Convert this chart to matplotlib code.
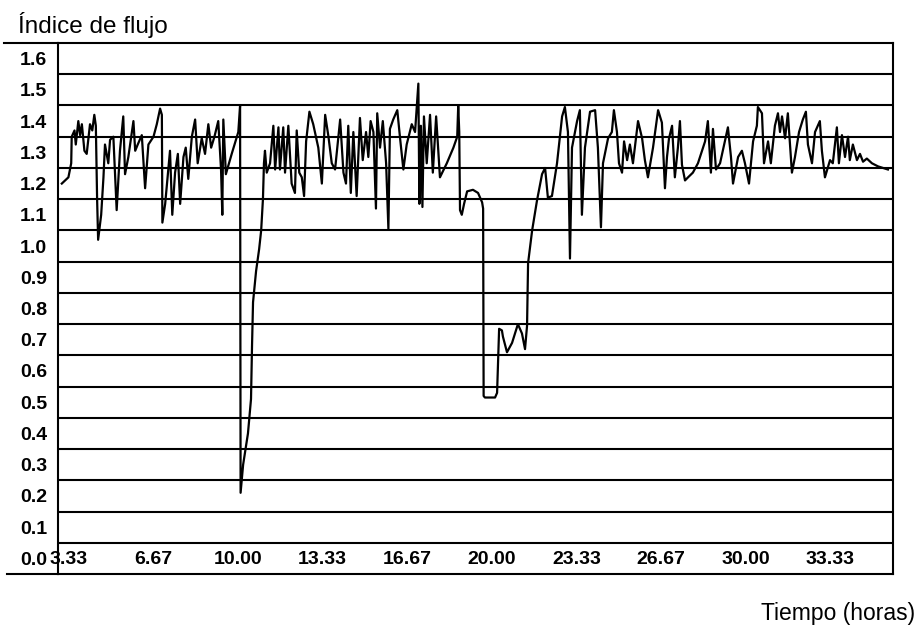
import matplotlib
matplotlib.use('Agg')
import matplotlib.pyplot as plt

plt.rcParams['font.family'] = ['Liberation Sans', 'DejaVu Sans']

# time in hours
tiempo = [3.07, 3.33, 3.44, 3.46, 3.57, 3.62, 3.72, 3.79, 3.86, 3.96, 4.05, 4.18, 4.27, 4.35, 4.41,
          4.46, 4.50, 4.62, 4.71, 4.77, 4.90, 4.97, 5.10, 5.23, 5.36, 5.49, 5.56, 5.69, 5.89, 5.96,
          6.06, 6.22, 6.35, 6.48, 6.68, 6.81, 6.94, 7.01, 7.03, 7.14, 7.33, 7.42, 7.53, 7.64, 7.73,
          7.86, 7.95, 8.05, 8.19, 8.32, 8.42, 8.58, 8.71, 8.84, 8.95, 9.08, 9.23, 9.34, 9.39, 9.43,
          9.53, 9.76, 10.02, 10.09, 10.11, 10.21, 10.40, 10.52, 10.56, 10.60, 10.72, 10.84, 10.92,
          10.99, 11.03, 11.07, 11.14, 11.27, 11.40, 11.47, 11.60, 11.66, 11.79, 11.86, 11.99, 12.12,
          12.25, 12.32, 12.42, 12.52, 12.61, 12.69, 12.82, 12.97, 13.17, 13.31, 13.44, 13.57, 13.70,
          13.83, 14.03, 14.16, 14.26, 14.35, 14.45, 14.55, 14.68, 14.81, 14.92, 15.05, 15.14, 15.23,
          15.34, 15.44, 15.49, 15.60, 15.71, 15.84, 15.93, 15.99, 16.12, 16.28, 16.39, 16.52, 16.65,
          16.85, 16.98, 17.11, 17.15, 17.21, 17.27, 17.33, 17.44, 17.57, 17.68, 17.81, 17.96, 18.23,
          18.49, 18.64, 18.68, 18.72, 18.75, 18.82, 18.91, 19.03, 19.26, 19.46, 19.62, 19.66, 19.68,
          19.73, 20.13, 20.21, 20.29, 20.40, 20.44, 20.60, 20.80, 21.03, 21.19, 21.31, 21.39, 21.43,
          21.59, 21.78, 21.98, 22.10, 22.21, 22.37, 22.57, 22.77, 22.88, 23.00, 23.08, 23.16, 23.36,
          23.47, 23.55, 23.67, 23.87, 24.07, 24.18, 24.30, 24.38, 24.58, 24.73, 24.81, 24.93, 25.01,
          25.13, 25.21, 25.33, 25.44, 25.56, 25.76, 25.92, 26.03, 26.15, 26.35, 26.55, 26.70, 26.82,
          26.90, 26.98, 27.10, 27.21, 27.33, 27.41, 27.49, 27.61, 27.73, 27.92, 28.12, 28.40, 28.51,
          28.63, 28.71, 28.83, 28.99, 29.18, 29.30, 29.42, 29.50, 29.70, 29.85, 29.97, 30.13, 30.29,
          30.44, 30.48, 30.64, 30.72, 30.88, 30.99, 31.15, 31.27, 31.35, 31.43, 31.55, 31.66, 31.82,
          31.94, 32.10, 32.25, 32.37, 32.45, 32.61, 32.73, 32.92, 33.00, 33.12, 33.32, 33.43, 33.59,
          33.67, 33.79, 33.91, 34.03, 34.10, 34.22, 34.38, 34.50, 34.62, 34.77, 34.97, 35.21, 35.60]

indice = [1.20, 1.22, 1.265, 1.35, 1.37, 1.325, 1.40, 1.355, 1.39, 1.305, 1.295, 1.39, 1.37, 1.42, 1.385,
          1.15, 1.02, 1.10, 1.22, 1.325, 1.265, 1.34, 1.35, 1.115, 1.305, 1.415, 1.23, 1.285, 1.40, 1.305,
          1.325, 1.355, 1.185, 1.325, 1.35, 1.39, 1.44, 1.42, 1.075, 1.135, 1.305, 1.10, 1.235, 1.295, 1.135,
          1.285, 1.315, 1.215, 1.35, 1.405, 1.265, 1.345, 1.295, 1.39, 1.315, 1.35, 1.40, 1.245, 1.10, 1.405,
          1.23, 1.295, 1.365, 1.45, 0.21, 0.30, 0.40, 0.51, 0.68, 0.82, 0.92, 0.99, 1.05,
          1.15, 1.265, 1.305, 1.235, 1.265, 1.385, 1.245, 1.38, 1.245, 1.38, 1.235, 1.385, 1.20,
          1.17, 1.37, 1.235, 1.22, 1.16, 1.335, 1.43, 1.39, 1.315, 1.20, 1.42, 1.35, 1.265,
          1.245, 1.405, 1.235, 1.20, 1.385, 1.17, 1.365, 1.16, 1.41, 1.275, 1.365, 1.285, 1.40,
          1.365, 1.12, 1.425, 1.315, 1.40, 1.265, 1.055, 1.375, 1.405, 1.435, 1.345, 1.245, 1.325,
          1.39, 1.365, 1.52, 1.135, 1.385, 1.125, 1.415, 1.265, 1.42, 1.235, 1.415, 1.22, 1.265,
          1.315, 1.35, 1.45, 1.365, 1.115, 1.10, 1.135, 1.175, 1.18, 1.17, 1.14, 1.12, 0.52,
          0.515, 0.515, 0.53, 0.735, 0.73, 0.71, 0.66, 0.69, 0.75, 0.72, 0.67, 0.745, 0.945,
          1.05, 1.145, 1.23, 1.25, 1.155, 1.16, 1.265, 1.415, 1.445, 1.365, 0.96, 1.315, 1.40,
          1.435, 1.10, 1.315, 1.43, 1.435, 1.315, 1.06, 1.265, 1.345, 1.365, 1.435, 1.365, 1.265,
          1.235, 1.335, 1.275, 1.325, 1.265, 1.40, 1.345, 1.275, 1.22, 1.315, 1.435, 1.395, 1.185,
          1.285, 1.345, 1.385, 1.22, 1.315, 1.40, 1.26, 1.21, 1.22, 1.235, 1.265, 1.335, 1.40,
          1.235, 1.375, 1.245, 1.265, 1.335, 1.38, 1.285, 1.20, 1.285, 1.305, 1.265, 1.20, 1.335,
          1.385, 1.445, 1.425, 1.265, 1.335, 1.265, 1.385, 1.425, 1.365, 1.415, 1.345, 1.425, 1.235,
          1.285, 1.365, 1.405, 1.43, 1.325, 1.265, 1.365, 1.40, 1.305, 1.22, 1.275, 1.265, 1.38,
          1.265, 1.355, 1.285, 1.35, 1.275, 1.325, 1.275, 1.295, 1.27, 1.28, 1.265, 1.255, 1.245]

y_ticks = [0.0, 0.1, 0.2, 0.3, 0.4, 0.5, 0.6, 0.7, 0.8, 0.9, 1.0, 1.1, 1.2, 1.3, 1.4, 1.5, 1.6]
x_ticks = [3.33, 6.67, 10.00, 13.33, 16.67, 20.00, 23.33, 26.67, 30.00, 33.33]
x_labels = ['3.33', '6.67', '10.00', '13.33', '16.67', '20.00', '23.33', '26.67', '30.00', '33.33']

fig = plt.figure(figsize=(9.19, 6.25), dpi=100)
ax = fig.add_axes([58 / 919, 1 - 574 / 625, (893 - 58) / 919, (574 - 43) / 625])

# grid lines sit between the labels
for v in y_ticks[:-1]:
    ax.axhline(v + 0.05, color='black', lw=1.5, zorder=1)

ax.plot(tiempo, indice, color='black', lw=1.6, zorder=2)

ax.set_xlim(2.92, 35.80)
ax.set_ylim(-0.05, 1.65)

ax.set_yticks(y_ticks)
ax.set_yticklabels(['%.1f' % v for v in y_ticks], fontweight='bold')
ax.tick_params(axis='y', length=0, pad=8, labelsize=14)
ax.set_xticks([])

# x labels are printed inside the bottom band
for x, lab in zip(x_ticks, x_labels):
    ax.text(x, -0.018, lab, ha='center', va='baseline', fontsize=14, fontweight='bold')

for s in ax.spines.values():
    s.set_linewidth(1.5)

# top and bottom border run out past the left axis
ax.plot([-0.065, 0], [1, 1], transform=ax.transAxes, clip_on=False, color='black', lw=1.5)
ax.plot([-0.061, 0], [0, 0], transform=ax.transAxes, clip_on=False, color='black', lw=1.5)

fig.text(18 / 919, 1 - 33 / 625, 'Índice de flujo', fontsize=17.5, va='baseline')
fig.text(915 / 919, 1 - 620 / 625, 'Tiempo (horas)', fontsize=16.5, ha='right', va='baseline')

fig.savefig('out.png', dpi=100)
